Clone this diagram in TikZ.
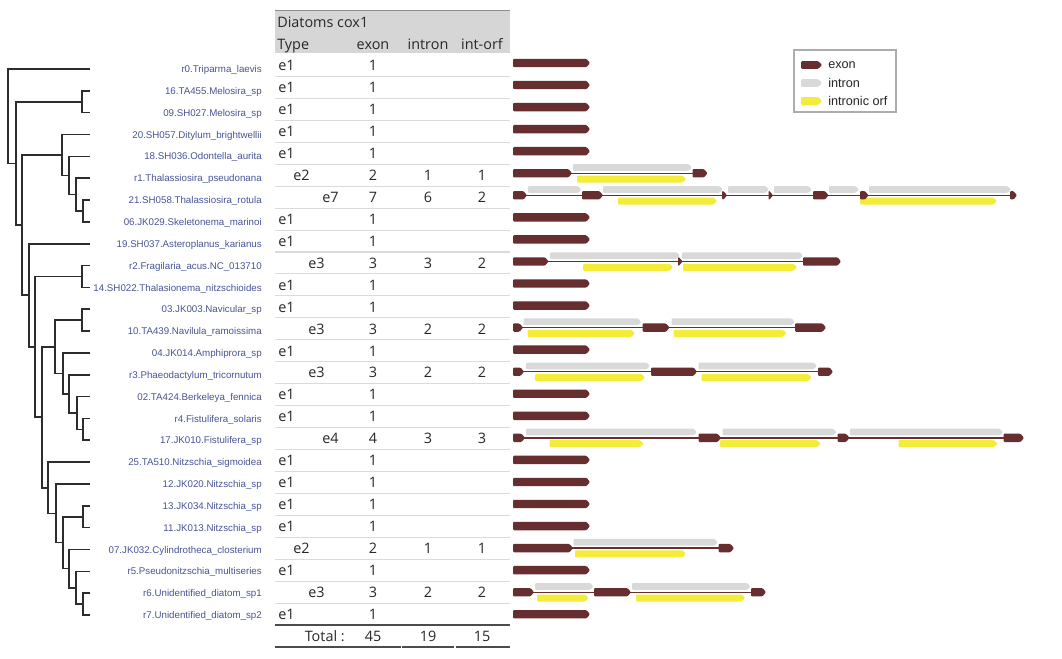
\documentclass[tikz,border=0pt]{standalone}
\usepackage{fontspec}
\setmainfont{Open Sans}
\newfontfamily\taxfont{Liberation Sans}
\usepackage{xcolor}
\definecolor{exonc}{RGB}{102,46,46}
\definecolor{intronc}{RGB}{217,217,217}
\definecolor{orfc}{RGB}{244,236,58}
\definecolor{taxonc}{RGB}{72,84,150}
\definecolor{headc}{RGB}{214,214,214}
\definecolor{tabtext}{RGB}{40,40,40}
\definecolor{treec}{RGB}{45,45,45}

% feature arrow: style, x start, x tip, y centre, half height
\newcommand{\feat}[5]{\fill[#1,rounded corners=0.8] (#2,#4-#5) -- ({max(#2,#3-3.5)},#4-#5) -- (#3,#4) -- ({max(#2,#3-3.5)},#4+#5) -- (#2,#4+#5) -- cycle;}
\newcommand{\genexon}[3]{\pgfmathsetmacro\geneY{63+22.05*#3}\feat{exonc}{#1}{#2}{\geneY}{4.2}}
\newcommand{\genintron}[3]{\pgfmathsetmacro\geneY{63+22.05*#3-5.8}\feat{intronc}{#1}{#2}{\geneY}{3.4}}
\newcommand{\genorf}[3]{\pgfmathsetmacro\geneY{63+22.05*#3+5.8}\feat{orfc}{#1}{#2}{\geneY}{3.5}}
\newcommand{\genline}[3]{\pgfmathsetmacro\geneY{63+22.05*#3}\draw[exonc,line width=1pt] (#1,\geneY) -- (#2,\geneY);}

\begin{document}
\begin{tikzpicture}[x=0.75pt,y=-0.75pt,
 declare function={rowy(\r)=69+21.84*\r; taby(\r)=65.5+21.94*\r;},
 branch/.style={draw=treec,line width=1.2pt},
 taxon/.style={anchor=base east,inner sep=0pt,text=taxonc,font=\taxfont\fontsize{7.3}{8}\selectfont},
 cell/.style={anchor=base,inner sep=0pt,text=tabtext,font=\fontsize{10.8}{12}\selectfont},
 sep/.style={draw=black!14,line width=0.8pt},
 rule/.style={draw=black!70,line width=0.9pt},
 legtext/.style={anchor=west,inner sep=0pt,text=black!85,font=\taxfont\fontsize{9.5}{11}\selectfont}]
\fill[white] (0,0) rectangle (1062,659);
\useasboundingbox (0,0) rectangle (1062,659);

% tree
\foreach \i/\name in {0/r0.Triparma\_laevis, 1/16.TA455.Melosira\_sp, 2/09.SH027.Melosira\_sp,
 3/20.SH057.Ditylum\_brightwellii, 4/18.SH036.Odontella\_aurita, 5/r1.Thalassiosira\_pseudonana,
 6/21.SH058.Thalassiosira\_rotula, 7/06.JK029.Skeletonema\_marinoi, 8/19.SH037.Asteroplanus\_karianus,
 9/r2.Fragilaria\_acus.NC\_013710, 10/14.SH022.Thalasionema\_nitzschioides, 11/03.JK003.Navicular\_sp,
 12/10.TA439.Navilula\_ramoissima, 13/04.JK014.Amphiprora\_sp, 14/r3.Phaeodactylum\_tricornutum,
 15/02.TA424.Berkeleya\_fennica, 16/r4.Fistulifera\_solaris, 17/17.JK010.Fistulifera\_sp,
 18/25.TA510.Nitzschia\_sigmoidea, 19/12.JK020.Nitzschia\_sp, 20/13.JK034.Nitzschia\_sp,
 21/11.JK013.Nitzschia\_sp, 22/07.JK032.Cylindrotheca\_closterium, 23/r5.Pseudonitzschia\_multiseries,
 24/r6.Unidentified\_diatom\_sp1, 25/r7.Unidentified\_diatom\_sp2}{
  \coordinate (t\i) at (90,{rowy(\i)});
  \node[taxon] (lab\i) at (262,{rowy(\i)+3.6}) {\name};
}
\coordinate (mel) at (82,{rowy(1.5)});
\coordinate (th4) at (83,{rowy(6.5)});
\coordinate (th3) at (76,{rowy(5.75)});
\coordinate (th2) at (69,{rowy(4.875)});
\coordinate (th1) at (62,{rowy(3.9375)});
\coordinate (fra) at (82,{rowy(9.5)});
\coordinate (nav) at (82,{rowy(11.5)});
\coordinate (fi4) at (83,{rowy(16.5)});
\coordinate (fi3) at (77,{rowy(15.75)});
\coordinate (fi2) at (69,{rowy(14.875)});
\coordinate (fi1) at (63,{rowy(13.9375)});
\coordinate (nv0) at (55,{rowy(12.71875)});
\coordinate (nz5) at (83,{rowy(24.5)});
\coordinate (nz4) at (76,{rowy(23.75)});
\coordinate (nz3) at (69,{rowy(22.875)});
\coordinate (nzc) at (83,{rowy(20.5)});
\coordinate (nz2) at (63,{rowy(21.6875)});
\coordinate (nz1) at (56,{rowy(20.34375)});
\coordinate (nz0) at (48,{rowy(19.171875)});
\coordinate (cw) at (42,{rowy(15.9453)});
\coordinate (c35) at (35,{rowy(12.7227)});
\coordinate (c29) at (29,{rowy(10.3613)});
\coordinate (cy) at (22,{rowy(7.1494)});
\coordinate (cx) at (16,{rowy(4.3247)});
\coordinate (root) at (8,{rowy(2.1623)});
\foreach \p/\c in {root/t0, root/cx, cx/mel, mel/t1, mel/t2, cx/cy, cy/th1, th1/t3, th1/th2,
 th2/t4, th2/th3, th3/t5, th3/th4, th4/t6, th4/t7, cy/c29, c29/t8, c29/c35, c35/fra, fra/t9,
 fra/t10, c35/cw, cw/nv0, nv0/nav, nav/t11, nav/t12, nv0/fi1, fi1/t13, fi1/fi2, fi2/t14,
 fi2/fi3, fi3/t15, fi3/fi4, fi4/t16, fi4/t17, cw/nz0, nz0/t18, nz0/nz1, nz1/t19, nz1/nz2,
 nz2/nzc, nzc/t20, nzc/t21, nz2/nz3, nz3/t22, nz3/nz4, nz4/t23, nz4/nz5, nz5/t24, nz5/t25}
  \draw[branch] (\p) |- (\c);

% table
\fill[headc] (275,10) rectangle (510,53);
\draw[black!45,line width=0.6pt] (275,10) -- (510,10);
\node[cell,anchor=base west] (title) at (277,27.3) {Diatoms cox1};
\node[cell,anchor=base west] (hType) at (277,49.3) {Type};
\node[cell] (hExon) at (373,49.3) {exon};
\node[cell] (hIntron) at (428,49.3) {intron};
\node[cell] (hOrf) at (482,49.3) {int-orf};
\foreach \i in {0,...,24}
  \draw[sep] (275,{taby(\i+0.5)}) -- (510,{taby(\i+0.5)});
\foreach \i in {0,1,2,3,4,7,8,10,11,13,15,16,18,19,20,21,23,25}{
  \node[cell,anchor=base west] (typ\i) at (278,{taby(\i)+5.3}) {e1};
  \node[cell] (exn\i) at (373,{taby(\i)+5.3}) {1};
}
\foreach \i/\typ/\tx/\cE/\cI/\cO in {5/e2/293/2/1/1, 6/e7/322/7/6/2, 9/e3/308/3/3/2, 12/e3/308/3/2/2,
 14/e3/308/3/2/2, 17/e4/322/4/3/3, 22/e2/293/2/1/1, 24/e3/308/3/2/2}{
  \node[cell,anchor=base west] (typ\i) at (\tx,{taby(\i)+5.3}) {\typ};
  \node[cell] (exn\i) at (373,{taby(\i)+5.3}) {\cE};
  \node[cell] (int\i) at (428,{taby(\i)+5.3}) {\cI};
  \node[cell] (orf\i) at (482,{taby(\i)+5.3}) {\cO};
}
\draw[rule] (275,625) -- (510,625);
\node[cell,anchor=base east] (total) at (345,641.3) {Total :};
\node[cell] (totExon) at (373,641.3) {45};
\node[cell] (totIntron) at (428,641.3) {19};
\node[cell] (totOrf) at (482,641.3) {15};
\draw[rule] (275,647) -- (400.5,647);
\draw[rule] (402,647) -- (454,647);
\draw[rule] (455.5,647) -- (510,647);

% genes
\foreach \i in {0,1,2,3,4,7,8,10,11,13,15,16,18,19,20,21,23,25}{
  \genexon{513}{590}{\i}
}
\genline{513}{706}{5}
\genintron{573}{692}{5} \genorf{577}{686}{5}
\genexon{513}{572}{5} \genexon{692.5}{707.5}{5}
\genline{513}{1016}{6}
\genintron{528}{581.5}{6} \genintron{603}{723}{6} \genintron{728}{769}{6}
\genintron{774}{812}{6} \genintron{829}{859}{6} \genintron{869}{1011}{6}
\genorf{618}{717}{6} \genorf{860}{997}{6}
\genexon{513}{527}{6} \genexon{582}{603}{6} \genexon{722}{727}{6} \genexon{768.5}{773}{6}
\genexon{813}{828.5}{6} \genexon{860}{868.5}{6} \genexon{1010}{1017}{6}
\genline{513}{840}{9}
\genintron{550}{680}{9} \genintron{682}{803}{9}
\genorf{583}{673}{9} \genorf{683}{797}{9}
\genexon{513}{548.5}{9} \genexon{678}{682.5}{9} \genexon{803}{841}{9}
\genline{513}{825}{12}
\genintron{523.5}{641.5}{12} \genintron{671.5}{795}{12}
\genorf{527.5}{635}{12} \genorf{673.5}{786.5}{12}
\genexon{513}{523}{12} \genexon{642.5}{669.5}{12} \genexon{795}{826}{12}
\genline{513}{832}{14}
\genintron{526}{650}{14} \genintron{698.5}{817}{14}
\genorf{535}{645}{14} \genorf{701.5}{811.5}{14}
\genexon{513}{524}{14} \genexon{651}{697}{14} \genexon{818}{833}{14}
\genline{513}{1023}{17}
\genintron{526}{697}{17} \genintron{722.5}{836.5}{17} \genintron{850}{1003}{17}
\genorf{549.5}{643.5}{17} \genorf{720}{820.5}{17} \genorf{898.5}{997.5}{17}
\genexon{513}{525}{17} \genexon{698.5}{721}{17} \genexon{837.5}{849.5}{17} \genexon{1003.5}{1024}{17}
\genline{513}{733}{22}
\genintron{573.5}{718}{22} \genorf{575}{686}{22}
\genexon{513}{573}{22} \genexon{718.5}{734}{22}
\genline{513}{765}{24}
\genintron{535}{593.5}{24} \genintron{632}{750.5}{24}
\genorf{537}{588.5}{24} \genorf{636}{745}{24}
\genexon{513}{534}{24} \genexon{594}{631}{24} \genexon{751}{766}{24}

% legend
\draw[black!32,line width=0.8pt] (794,50) rectangle (896,112);
\feat{exonc}{801}{822}{65}{3.8}
\feat{intronc}{801}{822}{83}{3.8}
\feat{orfc}{801}{822}{101}{3.8}
\node[legtext] (lgExon) at (828,65) {exon};
\node[legtext] (lgIntron) at (828,83) {intron};
\node[legtext] (lgOrf) at (828,101) {intronic orf};
\end{tikzpicture}
\end{document}
